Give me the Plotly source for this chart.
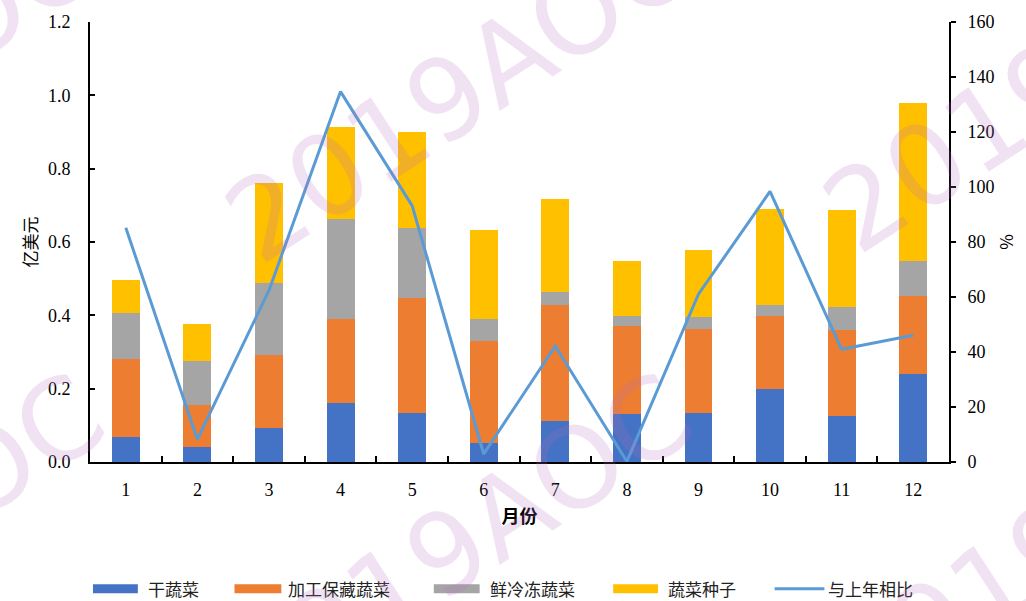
import plotly.graph_objects as go

months = [str(i) for i in range(1, 13)]
dried = [0.069, 0.040, 0.092, 0.161, 0.135, 0.053, 0.112, 0.132, 0.135, 0.200, 0.126, 0.241]
processed = [0.211, 0.115, 0.201, 0.230, 0.313, 0.277, 0.315, 0.240, 0.229, 0.197, 0.233, 0.213]
fresh_frozen = [0.126, 0.121, 0.195, 0.271, 0.189, 0.061, 0.038, 0.026, 0.031, 0.032, 0.064, 0.093]
seeds = [0.091, 0.100, 0.273, 0.253, 0.262, 0.243, 0.253, 0.150, 0.182, 0.261, 0.265, 0.432]
yoy = [85.2, 8.2, 62.4, 134.7, 93.2, 2.9, 42.2, 0.2, 61.0, 98.4, 41.0, 46.1]

names = ["干蔬菜", "加工保藏蔬菜", "鲜冷冻蔬菜", "蔬菜种子", "与上年相比"]
colors = ["#4472C4", "#ED7D31", "#A5A5A5", "#FFC000", "#5B9BD5"]

W, H = 1026, 601
L, R, T, B = 90, 952, 21, 462

def px(x):
    return (x - L) / (R - L)

def py(y):
    return (B - y) / (B - T)

fig = go.Figure()
for vals, name, c in zip([dried, processed, fresh_frozen, seeds], names[:4], colors[:4]):
    fig.add_trace(go.Bar(x=months, y=vals, name=name, marker=dict(color=c, line=dict(width=0)),
                         showlegend=False))
fig.add_trace(go.Scatter(x=months, y=yoy, name=names[4], yaxis="y2", mode="lines",
                         line=dict(color=colors[4], width=3), showlegend=False))

num_font = dict(family="Liberation Serif", size=18, color="#000")
cjk = "Noto Sans CJK SC"

fig.update_layout(
    width=W, height=H,
    margin=dict(l=L, r=W - R, t=T, b=H - B),
    paper_bgcolor="white", plot_bgcolor="white",
    barmode="stack", bargap=0.61,
    showlegend=False,
    xaxis=dict(type="category", showline=True, linecolor="#000", linewidth=2,
               ticks="inside", tickson="boundaries", ticklen=6, tickcolor="#000", tickwidth=2,
               tickfont=num_font, showgrid=False, ticklabelstandoff=10,
               title=dict(text="<b>月份</b>", font=dict(family=cjk, size=18, color="#000"), standoff=12)),
    yaxis=dict(range=[0, 1.2], dtick=0.2, tickformat=".1f", showline=True, linecolor="#000",
               linewidth=2, ticks="inside", ticklen=5, tickcolor="#000", tickwidth=2,
               tickfont=num_font, showgrid=False, zeroline=False, ticklabelstandoff=14,
               title=dict(text="亿美元", font=dict(family=cjk, size=17, color="#000"), standoff=6)),
    yaxis2=dict(range=[0, 160], dtick=20, overlaying="y", side="right", showline=True,
                linecolor="#000", linewidth=2, ticks="outside", ticklen=5, tickcolor="#000",
                tickwidth=2, tickfont=num_font, showgrid=False, zeroline=False,
                ticklabelstandoff=8,
                title=dict(text="%", font=dict(family=cjk, size=17, color="#000"), standoff=8)),
)

# custom legend (wide swatches like the original)
leg_y = 589
swatches = [(93, 138), (235, 282), (435, 481), (615, 660), (777, 827)]
text_x = [146, 287, 489, 668, 829]
for i, ((x0, x1), tx) in enumerate(zip(swatches, text_x)):
    if i < 4:
        fig.add_shape(type="rect", xref="paper", yref="paper",
                      x0=px(x0), x1=px(x1), y0=py(leg_y + 4.5), y1=py(leg_y - 4.5),
                      fillcolor=colors[i], line=dict(width=0))
    else:
        fig.add_shape(type="line", xref="paper", yref="paper",
                      x0=px(x0), x1=px(x1), y0=py(leg_y), y1=py(leg_y),
                      line=dict(color=colors[i], width=3))
    fig.add_annotation(x=px(tx), y=py(leg_y), xref="paper", yref="paper", text=names[i],
                       showarrow=False, xanchor="left", yanchor="middle",
                       font=dict(family=cjk, size=17, color="#222"))

# watermark
for cx, cy in [(-140, 90), (460, 90), (1060, 80), (-130, 545), (460, 545), (1065, 540)]:
    fig.add_annotation(x=px(cx), y=py(cy), xref="paper", yref="paper", text="2019AOC",
                       showarrow=False, xanchor="center", yanchor="middle", textangle=-33,
                       font=dict(family="DejaVu Sans", size=112, color="rgba(180,110,190,0.2)"))

fig.write_html("out.html")
